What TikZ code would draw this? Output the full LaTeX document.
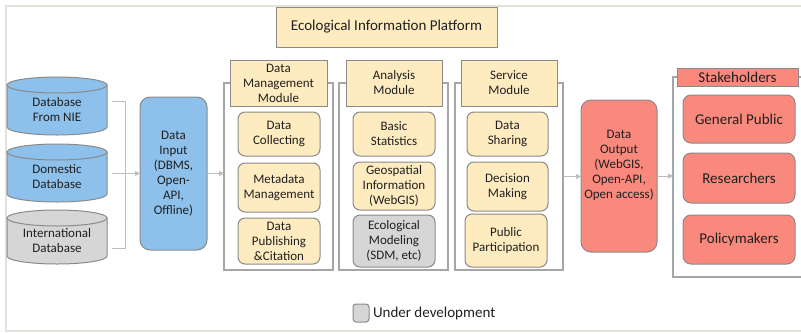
\documentclass[tikz,border=0pt]{standalone}
\usepackage{fontspec}
\setmainfont{Carlito}
\usetikzlibrary{arrows.meta}
\definecolor{yel}{HTML}{FFEBC0}
\definecolor{blu}{HTML}{8DC0EA}
\definecolor{sal}{HTML}{F8897C}
\definecolor{gry}{HTML}{D6D6D6}
\definecolor{bord}{HTML}{8A8A8A}
\definecolor{frm}{HTML}{A6A6A6}
\definecolor{arr}{HTML}{BDBDBD}
\definecolor{outerc}{HTML}{E2E2DA}
\definecolor{txt}{HTML}{202020}
\newcommand\placebox[7]{\node[#6,minimum width={(#4-#2)*1pt},minimum height={(#5-#3)*1pt}] (#1) at ({(#2+#4)/2},{(#3+#5)/2}) {#7};}
\newcommand\cylshape[5]{%
  \pgfmathsetmacro\rx{(#3-#1)/2}%
  \pgfmathsetmacro\cx{(#1+#3)/2}%
  \pgfmathsetmacro\ytop{#2+8}%
  \pgfmathsetmacro\ybot{#4-8}%
  \draw[fill=#5,draw=bord,line width=1pt] (#1,\ytop) -- (#1,\ybot) arc[start angle=180,end angle=360,x radius=\rx pt,y radius=8pt] -- (#3,\ytop) -- cycle;
  \draw[fill=#5,draw=bord,line width=1pt] (\cx,\ytop) ellipse[x radius=\rx pt,y radius=8pt];
}
\tikzset{
  base/.style={inner sep=0pt,outer sep=0pt,align=center,text=txt},
  frame/.style={base,draw=frm,line width=1.2pt},
  hdr/.style={base,draw=bord,fill=yel,line width=1pt},
  ibox/.style={base,draw=bord,fill=yel,line width=1pt,rounded corners=7pt},
  gbox/.style={base,draw=bord,fill=gry,line width=1pt,rounded corners=7pt},
  bigbox/.style={base,draw=bord,line width=1pt,rounded corners=10pt},
  sbox/.style={base,draw=bord,fill=sal,line width=1pt,rounded corners=8pt,font=\fontsize{15}{18}\selectfont},
  plain/.style={base},
  arrline/.style={draw=arr,line width=0.9pt},
  arrow/.style={arrline,-{Triangle[length=5pt,width=5pt]}},
}
\begin{document}
\begin{tikzpicture}[x=1pt,y=-1pt,font=\fontsize{13}{15}\selectfont]
\useasboundingbox (0,0) rectangle (801,333);
\draw[outerc,line width=1.2pt] (820,6) -- (6,6) -- (6,331) -- (820,331);

% title
\placebox{title}{276}{7}{497}{47}{hdr,font=\fontsize{15}{18}\selectfont}{Ecological Information Platform}

% cylinders
\cylshape{7}{77}{107}{135}{blu}
\cylshape{7}{144}{107}{202}{blu}
\cylshape{7}{210}{107}{264}{gry}
\placebox{db1}{7}{85}{107}{135}{plain}{Database\\From NIE}
\placebox{db2}{7}{152}{107}{202}{plain}{Domestic\\Database}
\placebox{db3}{7}{218}{107}{264}{plain}{International\\Database}

% data input
\placebox{din}{140}{97}{207}{250}{bigbox,fill=blu}{Data\\Input\\(DBMS,\\Open-\\API,\\Offline)}

% bracket
\coordinate (bt) at (112,101);
\coordinate (bb) at (112,248);
\coordinate (bm) at (112,173.5);
\draw[arrline] (bt) -- ++(13,0) |- (bb);
\draw[arrow] (bm) -- (bm -| din.west);

% module frames
\placebox{dmf}{224}{83}{333}{270}{frame}{}
\placebox{anf}{339}{83}{448}{270}{frame}{}
\placebox{svf}{455}{83}{563}{270}{frame}{}
\placebox{dmh}{230}{60}{327}{106}{hdr}{Data\\Management\\Module}
\placebox{anh}{346}{60}{442}{106}{hdr}{Analysis\\Module}
\placebox{svh}{461}{60}{557}{106}{hdr}{Service\\Module}

\placebox{dc}{238}{112}{320}{156}{ibox}{Data\\Collecting}
\placebox{mm}{238}{163}{320}{212}{ibox}{Metadata\\Management}
\placebox{dp}{238}{218}{320}{264}{ibox}{Data\\Publishing\\\&Citation}

\placebox{bs}{353}{112}{435}{156}{ibox}{Basic\\Statistics}
\placebox{gi}{353}{162}{435}{210}{ibox}{Geospatial\\Information\\(WebGIS)}
\placebox{em}{353}{215}{435}{267}{gbox}{Ecological\\Modeling\\(SDM, etc)}

\placebox{ds}{467}{112}{548}{156}{ibox}{Data\\Sharing}
\placebox{dm}{467}{162}{548}{211}{ibox}{Decision\\Making}
\placebox{pp}{465}{214}{547}{267}{ibox}{Public\\Participation}

% data output
\placebox{dout}{581}{100}{657}{252}{bigbox,fill=sal}{Data\\Output\\(WebGIS,\\Open-API,\\Open access)\\[8pt]}

% stakeholders
\placebox{stf}{673}{77}{830}{277}{frame}{}
\placebox{sth}{677}{68}{798}{86}{hdr,fill=sal,font=\fontsize{15}{18}\selectfont}{Stakeholders}
\placebox{gp}{683}{95}{795}{143}{sbox}{General Public}
\placebox{rs}{683}{153}{795}{203}{sbox}{Researchers}
\placebox{pm}{683}{215}{795}{264}{sbox}{Policymakers}

% arrows
\draw[arrow] (din.east) -- (din.east -| dmf.west);
\draw[arrow] (svf.east) -- (svf.east -| dout.west);
\draw[arrow] (dout.east) -- (dout.east -| stf.west);

% legend
\placebox{lg}{353}{304}{369}{322}{base,draw=bord,fill=gry,line width=1pt,rounded corners=3pt}{}
\node[base,anchor=west,font=\fontsize{15}{18}\selectfont] (lgt) at ([xshift=4pt]lg.east) {Under development};
\end{tikzpicture}
\end{document}
